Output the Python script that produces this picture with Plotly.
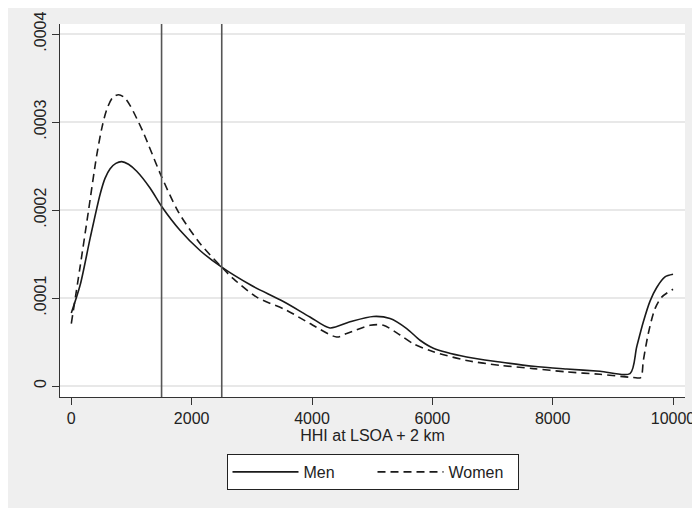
import plotly.graph_objects as go

# ---- data ----
men_x = [0, 148, 313, 479, 560, 645, 740, 837, 950, 1087, 1308, 1502, 1806, 2139,
         2500, 2974, 3524, 3966, 4298, 4631, 5019, 5297, 5574, 5795, 6017, 6571,
         7125, 7679, 8233, 8787, 9285, 9396, 9507, 9618, 9729, 9867, 10000]
men_y = [0.83, 1.15, 1.68, 2.18, 2.36, 2.47, 2.53, 2.55, 2.52, 2.44, 2.25, 2.04,
         1.77, 1.54, 1.35, 1.15, 0.96, 0.785, 0.66, 0.73, 0.79, 0.767, 0.653, 0.52,
         0.43, 0.33, 0.273, 0.224, 0.193, 0.167, 0.141, 0.444, 0.73, 0.965, 1.12,
         1.24, 1.27]

women_x = [0, 145, 283, 422, 510, 588, 690, 786, 880, 975, 1197, 1474, 1778, 2139,
           2500, 2692, 3081, 3580, 3966, 4410, 4577, 4966, 5187, 5463, 5685, 6017,
           6571, 7125, 7679, 8233, 8787, 9341, 9463, 9507, 9590, 9701, 9812, 10000]
women_y = [0.71, 1.35, 1.98, 2.62, 2.94, 3.14, 3.28, 3.31, 3.28, 3.19, 2.88, 2.42,
           1.98, 1.62, 1.35, 1.22, 1.01, 0.86, 0.71, 0.557, 0.596, 0.69, 0.69, 0.58,
           0.48, 0.39, 0.29, 0.235, 0.198, 0.16, 0.133, 0.096, 0.096, 0.29, 0.6,
           0.88, 1.01, 1.10]

y_scale = 1e-4
ref_lines = [1500, 2500]

x_ticks = [0, 2000, 4000, 6000, 8000, 10000]
x_ticklabels = ["0", "2000", "4000", "6000", "8000", "10000"]
y_ticks = [0, 0.0001, 0.0002, 0.0003, 0.0004]
y_ticklabels = ["0", ".0001", ".0002", ".0003", ".0004"]

FONT = "Liberation Sans, Arial, sans-serif"
GREY_BG = "#efefef"

fig = go.Figure()
fig.add_trace(go.Scatter(
    x=men_x, y=[v * y_scale for v in men_y], name="Men", mode="lines",
    line=dict(color="#1a1a1a", width=1.6, shape="spline", smoothing=0.8)))
fig.add_trace(go.Scatter(
    x=women_x, y=[v * y_scale for v in women_y], name="Women", mode="lines",
    line=dict(color="#1a1a1a", width=1.6, dash="8px,5px", shape="spline",
              smoothing=0.8)))

for xv in ref_lines:
    fig.add_shape(type="line", xref="x", yref="paper", x0=xv, x1=xv, y0=0, y1=1,
                  line=dict(color="#555555", width=1.6), layer="above")

W, H = 692, 500
ml, mr, mt, mb = 52, 15, 16, 111
ph = H - mt - mb
def px_y(p):
    return (H - mb - p) / ph

fig.update_layout(
    width=W, height=H,
    margin=dict(l=ml, r=mr, t=mt, b=mb, autoexpand=False),
    paper_bgcolor=GREY_BG, plot_bgcolor="white",
    font=dict(family=FONT, size=16, color="#222222"),
    showlegend=True,
    legend=dict(orientation="h", x=0.5, xanchor="center", y=px_y(446), yanchor="top",
                bgcolor="white", bordercolor="#222222", borderwidth=1,
                font=dict(size=16), entrywidth=64, itemwidth=66,
                tracegroupgap=0),
    xaxis=dict(range=[-188, 10199], tickvals=x_ticks, ticktext=x_ticklabels,
               ticks="outside", ticklen=7, automargin=False,
               tickcolor="#333333", showline=True, linecolor="#333333", linewidth=1.2,
               showgrid=False, zeroline=False,
               title=dict(text="HHI at LSOA + 2 km", standoff=3, font=dict(size=16))),
    yaxis=dict(range=[-0.0000125, 0.0004114], tickvals=y_ticks, ticktext=y_ticklabels,
               tickangle=-90, ticks="outside", ticklen=7, tickcolor="#333333",
               showline=True, linecolor="#333333", linewidth=1.2, automargin=False,
               showgrid=True, gridcolor="#e8e8e8", gridwidth=1.5, zeroline=False,
               ticklabelstandoff=0),
)

fig.write_html("out.html")
